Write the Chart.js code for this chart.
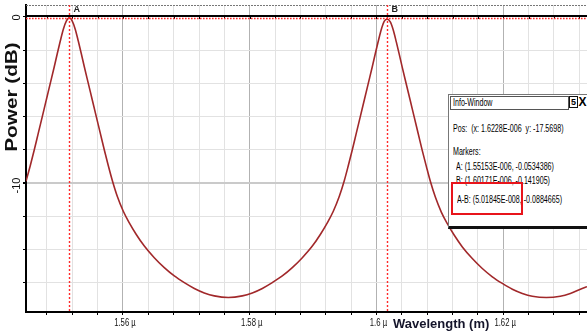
<!DOCTYPE html>
<html>
<head>
<meta charset="utf-8">
<title>Power vs Wavelength</title>
<script src="https://cdn.jsdelivr.net/npm/chart.js"></script>
<style>
  body { margin:0; background:#fff; }
  #wrap { position:relative; width:587px; height:335px; overflow:hidden; }
  #info { position:absolute; left:448px; top:94px; width:145px; height:131px; background:#fff;
          border-left:1px solid #777; border-top:1px solid #777; border-bottom:3px solid #111;
          font-family:"Liberation Sans",Arial,sans-serif; font-size:10px; color:#000; }
  #info .ln { position:absolute; white-space:pre; line-height:11px; transform:scaleX(0.71); transform-origin:0 0; }
  #info .bar { position:absolute; left:1px; top:1px; width:117px; height:12px; border:1px solid #555; }
  #info .btn { position:absolute; top:1px; height:12px; line-height:12px; font-weight:bold; text-align:center; }
  #info .hl { position:absolute; left:2px; top:87px; width:72px; height:33px; box-sizing:border-box; border:2.5px solid #e8141b; }
</style>
</head>
<body>
<div id="wrap">
  <canvas id="spec" width="587" height="335"></canvas>
  <div id="info">
    <div class="bar"></div>
    <div class="ln" style="left:4px;top:2px;">Info-Window</div>
    <div class="btn" style="left:120px;width:7px;border:1px solid #111;height:10px;line-height:10px;font-size:9px;">5</div>
    <div class="btn" style="left:128px;width:11px;font-size:12px;">X</div>
    <div class="ln" style="left:4px;top:28px;">Pos:  (x: 1.6228E-006  y: -17.5698)</div>
    <div class="ln" style="left:4px;top:51px;">Markers:</div>
    <div class="ln" style="left:7px;top:66px;">A: (1.55153E-006, -0.0534386)</div>
    <div class="ln" style="left:7px;top:80px;">B: (1.60171E-006, -0.141905)</div>
    <div class="ln" style="left:8px;top:99px;">A-B: (5.01845E-008, -0.0884665)</div>
    <div class="hl"></div>
  </div>
</div>
<script>
// wavelength in micrometres, power in dB
const wavelength = [1.54470, 1.54538, 1.54601, 1.54664, 1.54727, 1.54790, 1.54853, 1.54916, 1.54964, 1.55011,
  1.55058, 1.55106, 1.55153, 1.55200, 1.55248, 1.55295, 1.55342, 1.55390, 1.55453, 1.55516,
  1.55579, 1.55642, 1.55705, 1.55768, 1.55832, 1.55910, 1.56005, 1.56100, 1.56210, 1.56337,
  1.56494, 1.56652, 1.56810, 1.56968, 1.57126, 1.57283, 1.57441, 1.57662, 1.57883, 1.58041,
  1.58199, 1.58356, 1.58514, 1.58672, 1.58830, 1.58988, 1.59114, 1.59224, 1.59319, 1.59414,
  1.59493, 1.59556, 1.59619, 1.59682, 1.59745, 1.59808, 1.59871, 1.59934, 1.59982, 1.60029,
  1.60076, 1.60124, 1.60171, 1.60218, 1.60266, 1.60313, 1.60360, 1.60408, 1.60471, 1.60534,
  1.60597, 1.60660, 1.60723, 1.60787, 1.60850, 1.60929, 1.61023, 1.61118, 1.61228, 1.61355,
  1.61512, 1.61670, 1.61828, 1.61986, 1.62144, 1.62301, 1.62459, 1.62680, 1.62901, 1.63059,
  1.63217, 1.63322];
const power = [-9.9, -8.95, -8.0, -7.0, -6.0, -5.0, -4.0, -3.0, -2.2, -1.45,
  -0.75, -0.25, -0.05, -0.25, -0.75, -1.45, -2.2, -3.0, -4.0, -5.0,
  -6.0, -7.0, -8.0, -8.95, -9.85, -10.8, -11.7, -12.4, -13.1, -13.8,
  -14.5, -15.1, -15.6, -16.0, -16.35, -16.62, -16.8, -16.9, -16.8, -16.62,
  -16.35, -16.0, -15.6, -15.1, -14.5, -13.8, -13.1, -12.4, -11.7, -10.8,
  -9.85, -8.95, -8.0, -7.0, -6.0, -5.0, -4.0, -3.0, -2.2, -1.45,
  -0.75, -0.25, -0.14, -0.3, -0.8, -1.5, -2.25, -3.05, -4.05, -5.05,
  -6.05, -7.05, -8.05, -9.0, -9.9, -10.85, -11.75, -12.45, -13.15, -13.85,
  -14.55, -15.15, -15.65, -16.05, -16.4, -16.65, -16.82, -16.9, -16.82, -16.65,
  -16.4, -16.25];

const markerNames = ['A', 'B'];
const markerPos = [1.55153, 1.60171];

const xMin = 1.5447, xMax = 1.63322;
const yMin = -17.77, yMax = 0.72;
const xGrid = [];
for (let v = 1.548; v < xMax; v += 0.004) xGrid.push(+v.toFixed(3));
const xLabels = [1.56, 1.58, 1.6, 1.62];
const yGrid = [-16, -14, -12, -10, -8, -6, -4, -2, 0];
const yLabels = [0, -10];

const isMajorX = v => Math.abs(v / 0.02 - Math.round(v / 0.02)) < 1e-6;
const sans = '"Liberation Sans",Arial,sans-serif';

function seg(ctx, x1, y1, x2, y2) { ctx.beginPath(); ctx.moveTo(x1, y1); ctx.lineTo(x2, y2); ctx.stroke(); }

const overlay = {
  id: 'overlay',
  afterDatasetsDraw(chart) {
    const { ctx, chartArea: a, scales: { x, y } } = chart;
    ctx.save();
    // dashed frame top
    ctx.strokeStyle = '#777'; ctx.lineWidth = 1; ctx.setLineDash([2, 1]);
    seg(ctx, a.left, a.top + 0.5, a.right, a.top + 0.5);
    // 0 dB reference: black line with ticks, red dotted marker level
    const y0 = y.getPixelForValue(0);
    ctx.setLineDash([]); ctx.strokeStyle = '#000'; ctx.lineWidth = 2;
    seg(ctx, a.left, y0 - 1, a.right, y0 - 1);
    ctx.lineWidth = 1;
    xGrid.forEach(v => { const px = Math.round(x.getPixelForValue(v)) + 0.5; seg(ctx, px, y0, px, y0 + 2); });
    ctx.strokeStyle = '#ff2b2b'; ctx.lineWidth = 1.6; ctx.setLineDash([1.6, 1.4]);
    seg(ctx, a.left, y0 + 1.5, a.right, y0 + 1.5);
    // vertical markers
    ctx.font = 'bold 9px ' + sans;
    ctx.textBaseline = 'middle'; ctx.textAlign = 'left';
    markerPos.forEach((m, i) => {
      const px = Math.round(x.getPixelForValue(m)) + 0.5;
      ctx.strokeStyle = '#ff2b2b'; ctx.lineWidth = 1.4; ctx.setLineDash([2, 2]);
      seg(ctx, px, a.top, px, a.bottom);
      ctx.fillStyle = '#222';
      ctx.fillText(markerNames[i], px + 4, a.top + 5);
    });
    ctx.restore();
  },
  afterDraw(chart) {
    const { ctx, chartArea: a, scales: { x, y } } = chart;
    ctx.save();
    ctx.fillStyle = '#111';
    ctx.textAlign = 'center'; ctx.textBaseline = 'middle';
    // x tick labels, condensed
    ctx.font = '11px ' + sans;
    xLabels.forEach(v => {
      ctx.save();
      ctx.translate(x.getPixelForValue(v) + 2, a.bottom + 11);
      ctx.scale(0.7, 1);
      ctx.fillText(String(v) + ' µ', 0, 0);
      ctx.restore();
    });
    // y tick labels, rotated
    ctx.font = '10px ' + sans;
    yLabels.forEach(v => {
      ctx.save();
      ctx.translate(17, y.getPixelForValue(v) + (v === 0 ? 0.5 : 2.5));
      ctx.rotate(-Math.PI / 2); ctx.scale(1.1, 1);
      ctx.fillText(String(v), 0, 0);
      ctx.restore();
    });
    // y title
    ctx.save();
    ctx.translate(12, 97); ctx.rotate(-Math.PI / 2); ctx.scale(1.22, 1);
    ctx.font = 'bold 17px ' + sans;
    ctx.fillText('Power (dB)', 0, 0);
    ctx.restore();
    // x title
    ctx.textAlign = 'left';
    ctx.font = 'bold 13px ' + sans;
    ctx.fillStyle = '#14142a';
    ctx.fillText('Wavelength (m)', 393, 324);
    ctx.restore();
  }
};

new Chart(document.getElementById('spec'), {
  type: 'line',
  data: {
    datasets: [{
      data: wavelength.map((w, i) => ({ x: w, y: power[i] })),
      borderColor: '#a1282a',
      borderWidth: 1.6,
      pointRadius: 0,
      cubicInterpolationMode: 'monotone'
    }]
  },
  options: {
    responsive: false,
    animation: false,
    events: [],
    layout: { padding: { top: 5, right: 0, left: 0, bottom: 0 } },
    plugins: { legend: { display: false }, tooltip: { enabled: false } },
    scales: {
      x: {
        type: 'linear', min: xMin, max: xMax,
        afterBuildTicks: s => { s.ticks = xGrid.map(v => ({ value: v })); },
        afterFit: s => { s.height = 23; },
        grid: {
          color: c => (c.tick && isMajorX(c.tick.value)) ? '#b2b2b2' : '#e2e2e2',
          tickColor: '#000', tickLength: 3
        },
        border: { color: '#000', width: 2 },
        ticks: { display: false }
      },
      y: {
        min: yMin, max: yMax,
        afterBuildTicks: s => { s.ticks = yGrid.map(v => ({ value: v })); },
        afterFit: s => { s.width = 26; },
        grid: {
          color: c => (c.tick && c.tick.value === -10) ? '#cacaca' : '#e2e2e2',
          lineWidth: c => (c.tick && c.tick.value === -10) ? 2 : 1,
          tickColor: '#000', tickLength: 3
        },
        border: { color: '#000', width: 2 },
        ticks: { display: false }
      }
    }
  },
  plugins: [overlay]
});
</script>
</body>
</html>
